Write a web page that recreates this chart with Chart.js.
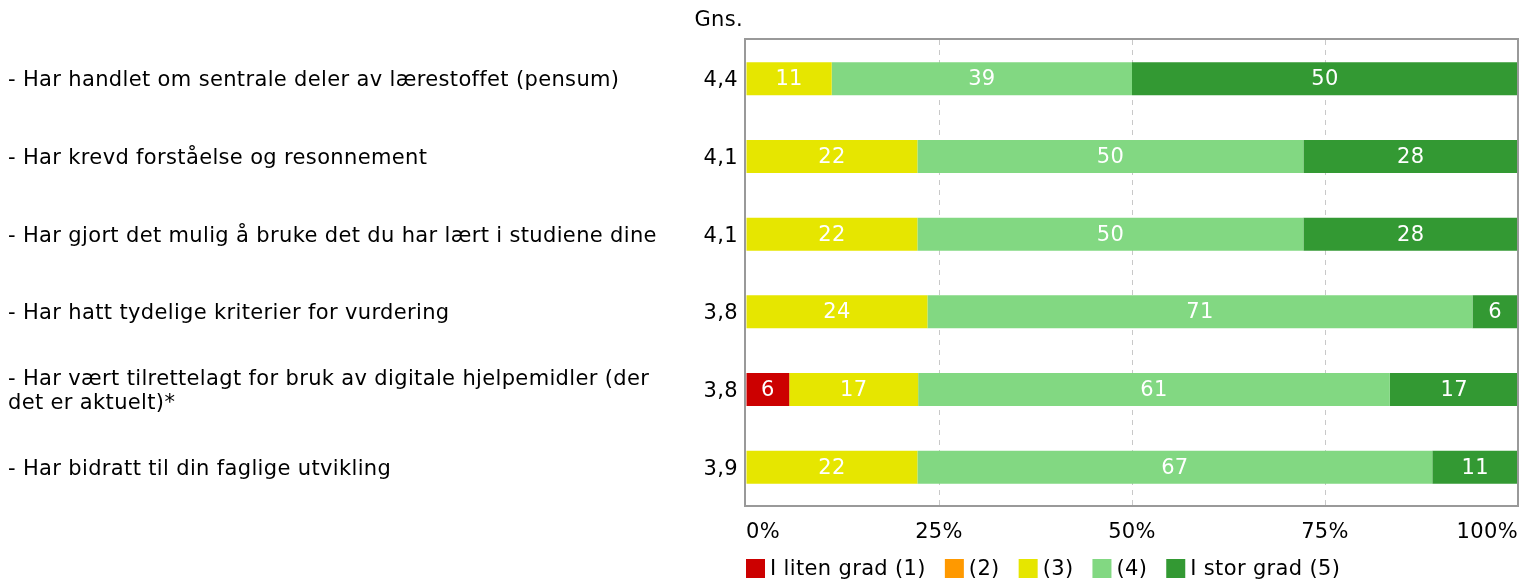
<!DOCTYPE html>
<html><head><meta charset="utf-8">
<script src="https://cdn.jsdelivr.net/npm/chart.js@4/dist/chart.umd.min.js"></script>
<style>html,body{margin:0;padding:0;background:#fff;overflow:hidden}#wrap{width:1521px;height:581px;position:relative}</style>
</head><body><div id="wrap"><canvas id="c"></canvas></div>
<script>
const categories = [
  "- Har handlet om sentrale deler av lærestoffet (pensum)",
  "- Har krevd forståelse og resonnement",
  "- Har gjort det mulig å bruke det du har lært i studiene dine",
  "- Har hatt tydelige kriterier for vurdering",
  ["- Har vært tilrettelagt for bruk av digitale hjelpemidler (der", "det er aktuelt)*"],
  "- Har bidratt til din faglige utvikling"
];
const averages = ["4,4", "4,1", "4,1", "3,8", "3,8", "3,9"];
const averageHeader = "Gns.";
const seriesNames = ["I liten grad (1)", "(2)", "(3)", "(4)", "I stor grad (5)"];
const grade1 = [0, 0, 0, 0, 5.6, 0];
const grade2 = [0, 0, 0, 0, 0, 0];
const grade3 = [11.1, 22.2, 22.2, 23.5, 16.7, 22.2];
const grade4 = [38.9, 50, 50, 70.6, 61.1, 66.7];
const grade5 = [50, 27.8, 27.8, 5.9, 16.7, 11.1];
const xTicks = [0, 25, 50, 75, 100];
const seriesColors = ["#cc0000", "#ff9900", "#e6e600", "#82d882", "#339933"];

const FONT = "'DejaVu Sans', Verdana, sans-serif";
const FS = 21;
const SPACING = "0.35px";
Chart.defaults.font.family = FONT;
Chart.defaults.font.size = FS;
Chart.defaults.font.lineHeight = 1.1;
Chart.defaults.color = "#000";

const seriesData = [grade1, grade2, grade3, grade4, grade5];
const datasets = seriesData.map((d, i) => ({
  label: seriesNames[i], data: d, backgroundColor: seriesColors[i],
  borderWidth: 0, barPercentage: 0.425, categoryPercentage: 1
}));

const spacing = {
  id: "spacing",
  beforeInit(chart) { chart.ctx.letterSpacing = SPACING; },
  beforeUpdate(chart) { chart.ctx.letterSpacing = SPACING; },
  beforeDraw(chart) { chart.ctx.letterSpacing = SPACING; }
};

const barLabels = {
  id: "barLabels",
  afterDatasetsDraw(chart) {
    const ctx = chart.ctx; ctx.save();
    ctx.font = FS + "px " + FONT; ctx.fillStyle = "#fff";
    ctx.textAlign = "center"; ctx.textBaseline = "middle";
    chart.data.datasets.forEach((ds, i) => {
      chart.getDatasetMeta(i).data.forEach((el, j) => {
        const v = ds.data[j]; if (!v) return;
        const p = el.getProps(["x", "y", "base"], true);
        ctx.fillText(String(Math.round(v)), (p.x + p.base) / 2, p.y + 1);
      });
    });
    ctx.restore();
  }
};

const frameAndAvg = {
  id: "frameAndAvg",
  afterDraw(chart) {
    const ctx = chart.ctx, a = chart.chartArea, ys = chart.scales.y;
    ctx.save();
    ctx.strokeStyle = "#999"; ctx.lineWidth = 2;
    ctx.strokeRect(a.left - 1, a.top - 1, a.right - a.left + 1, a.bottom - a.top + 1);
    ctx.font = FS + "px " + FONT; ctx.fillStyle = "#000";
    ctx.textAlign = "right"; ctx.textBaseline = "middle";
    ctx.fillText(averageHeader, a.left - 3, 21);
    averages.forEach((v, j) => ctx.fillText(v, a.left - 8, ys.getPixelForValue(j) + 2));
    // legend
    let x = a.left; const by = 559, bs = 19;
    seriesNames.forEach((n, i) => {
      ctx.fillStyle = seriesColors[i];
      ctx.fillRect(x, by, bs, bs);
      ctx.fillStyle = "#000"; ctx.textAlign = "left";
      ctx.fillText(n, x + bs + 5, by + bs / 2 + 1);
      x += bs + 5 + ctx.measureText(n).width + 19;
    });
    ctx.restore();
  }
};

new Chart(document.getElementById("c"), {
  type: "bar",
  data: { labels: categories, datasets },
  options: {
    indexAxis: "y", responsive: true, maintainAspectRatio: false, animation: false,
    layout: { padding: { left: 8, right: 3, top: 40, bottom: 35 } },
    plugins: { legend: { display: false }, tooltip: { enabled: false } },
    scales: {
      x: {
        stacked: true, min: 0, max: 100,
        afterBuildTicks(s) { s.ticks = xTicks.map(v => ({ value: v })); },
        afterFit(s) { s.height = 40; s.paddingLeft = 0; s.paddingRight = 0; },
        ticks: { align: "inner", padding: 15, color: "#000", callback: v => v + "%" },
        grid: { drawTicks: false, lineWidth: 1,
          color: c => (c.tick && (c.tick.value === 0 || c.tick.value === 100)) ? "rgba(0,0,0,0)" : "#c8c8c8" },
        border: { display: false, dash: [5, 5] }
      },
      y: {
        stacked: true,
        afterFit(s) { s.width = 738; },
        ticks: { crossAlign: "far", padding: 0, labelOffset: 2, color: "#000", autoSkip: false },
        grid: { display: false, drawTicks: false },
        border: { display: false }
      }
    }
  },
  plugins: [spacing, barLabels, frameAndAvg]
});
</script></body></html>
